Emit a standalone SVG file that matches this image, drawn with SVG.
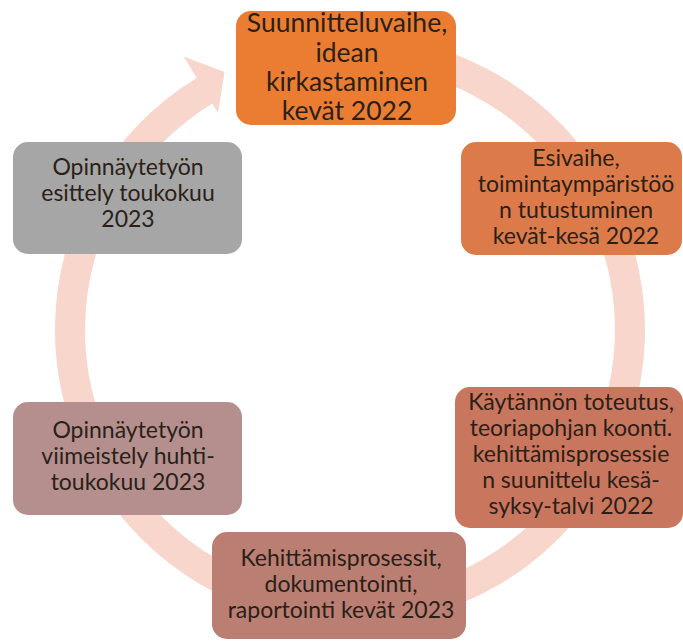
<svg xmlns="http://www.w3.org/2000/svg" width="683" height="642" viewBox="0 0 683 642">
<style>
  .lbl { font-family: Lato, Carlito, Calibri, "Liberation Sans", sans-serif; fill: #2b1f18; text-anchor: middle; }
  .big { font-size: 26.5px; }
  .mid { font-size: 23px; }
  .box { stroke: none; }
</style>
<rect width="683" height="642" fill="#ffffff"/>
<g id="connectors">
  <path id="cycle-arrow" fill="#F8D6CB" d="M 273.65 45.05 A 295 295 0 1 1 196.75 77.92 L 183.8 56.6 L 224.5 72 L 218 113 L 212.33 103.56 A 265 265 0 1 0 281.42 74.03 Z"/>
</g>
<g id="node-suunnitteluvaihe">
  <rect class="box" x="236" y="11" width="220" height="114" rx="15" fill="#EB7D33"/>
  <text class="lbl big"><tspan x="347" y="32">Suunnitteluvaihe,</tspan><tspan x="347" y="61.5">idean</tspan><tspan x="347" y="91">kirkastaminen</tspan><tspan x="347" y="120">kevät 2022</tspan></text>
</g>
<g id="node-esivaihe">
  <rect class="box" x="461" y="142" width="221" height="113" rx="15" fill="#DC7A4A"/>
  <text class="lbl mid"><tspan x="576" y="166">Esivaihe,</tspan><tspan x="576" y="192">toimintaympäristöö</tspan><tspan x="576" y="218">n tutustuminen</tspan><tspan x="576" y="244">kevät-kesä 2022</tspan></text>
</g>
<g id="node-kaytannon">
  <rect class="box" x="455" y="387" width="228" height="141" rx="15" fill="#C9765E"/>
  <text class="lbl mid"><tspan x="571" y="410">Käytännön toteutus,</tspan><tspan x="571" y="436">teoriapohjan koonti.</tspan><tspan x="571" y="462">kehittämisprosessie</tspan><tspan x="571" y="488">n suunittelu kesä-</tspan><tspan x="571" y="514">syksy-talvi 2022</tspan></text>
</g>
<g id="node-kehittamisprosessit">
  <rect class="box" x="212" y="532" width="254" height="107" rx="15" fill="#BA7E73"/>
  <text class="lbl mid"><tspan x="341" y="566">Kehittämisprosessit,</tspan><tspan x="341" y="592">dokumentointi,</tspan><tspan x="341" y="618">raportointi kevät 2023</tspan></text>
</g>
<g id="node-viimeistely">
  <rect class="box" x="13" y="402" width="229" height="113" rx="15" fill="#B48F8E"/>
  <text class="lbl mid"><tspan x="128" y="438">Opinnäytetyön</tspan><tspan x="128" y="464">viimeistely huhti-</tspan><tspan x="128" y="490">toukokuu 2023</tspan></text>
</g>
<g id="node-esittely">
  <rect class="box" x="13" y="142" width="229" height="112" rx="15" fill="#A6A6A6"/>
  <text class="lbl mid"><tspan x="128" y="175">Opinnäytetyön</tspan><tspan x="128" y="201">esittely toukokuu</tspan><tspan x="128" y="227">2023</tspan></text>
</g>
</svg>
